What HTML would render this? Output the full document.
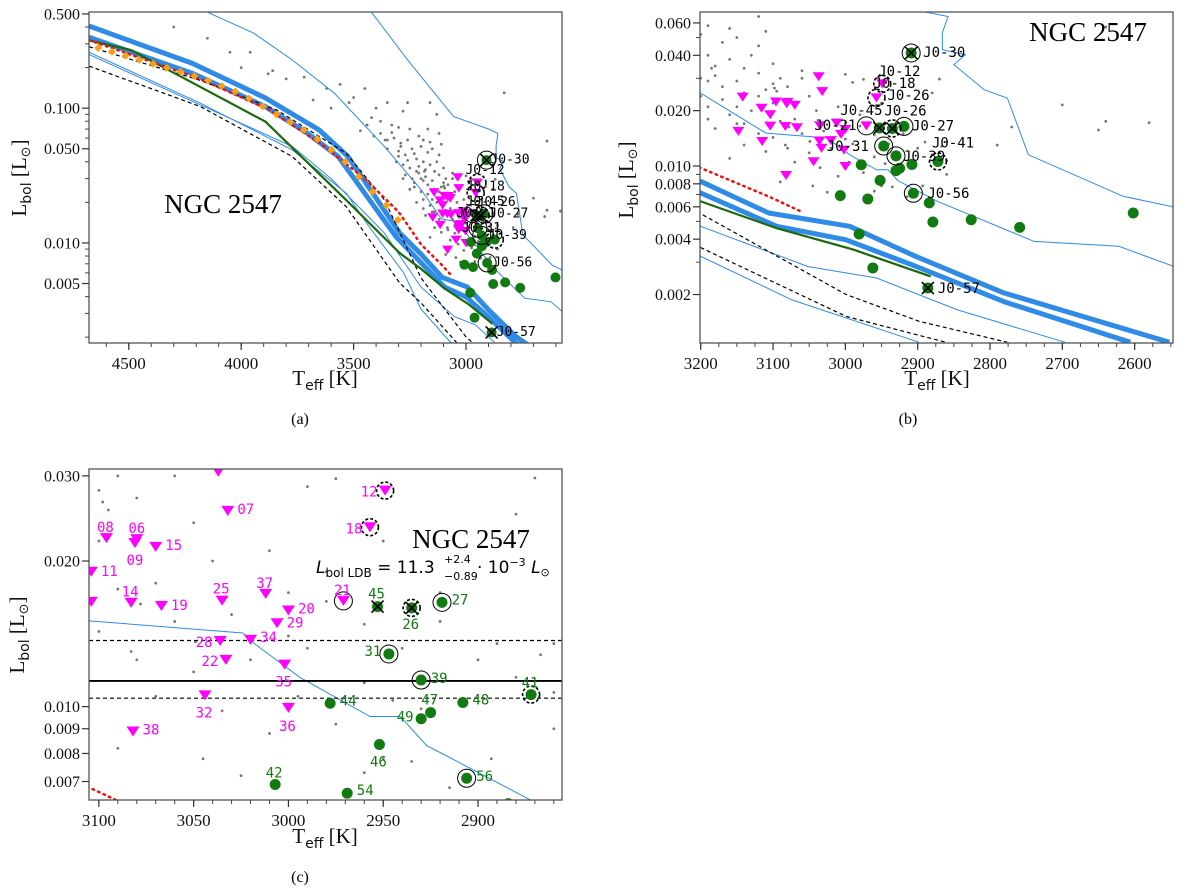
<!DOCTYPE html>
<html><head><meta charset="utf-8"><title>NGC 2547 HR diagrams</title>
<style>
html,body{margin:0;padding:0;background:#fff;overflow:hidden;width:1200px;height:892px;}
svg{display:block;}
.tick{font-family:"Liberation Serif",serif;font-size:16px;fill:#111;}
.xtick{font-size:17px;}
.ttl{font-family:"Liberation Serif","DejaVu Serif",serif;font-size:21px;fill:#111;}
.lab{font-family:"DejaVu Sans Mono","Liberation Mono",monospace;font-size:13px;}
</style></head>
<body>
<svg id="fig" xmlns="http://www.w3.org/2000/svg" width="1200" height="892" viewBox="0 0 1200 892"></svg>
<script>
// ---------- DATA ----------
const fieldT=[4150,4300,4050,3960,4420,4000,3860,3720,3880,3800,4150,3620,3560,3450,3500,3520,3680,3600,3400,3350,3260,3280,3160,3130,3420,3380,3440,3470,3330,3300,3250,3380,3410,3360,3320,3290,3260,3210,3170,3120,3350,3300,3270,3240,3200,3150,3120,3310,3280,3250,3220,3190,3160,3130,3100,3270,3240,3210,3180,3150,3120,3090,3060,3230,3200,3170,3140,3110,3080,3050,3220,3190,3160,3130,3100,3070,3040,3010,3180,3150,3120,3090,3060,3030,3000,2980,3140,3110,3080,3050,3020,2990,3160,3070,3035,2995,2960,2940,2920,2890,2960,2975,3090,3010,2950,2960,2930,3045,3025,2880,2860,2975,2990,3000,2870,2790,2770,2700,2650,2640,2580,2860,2640,2830,2920,3190,3170,3185,3190,3160,3110,2950,2880,3000,2980,2900,2935,2945,2915,3098,3095,3060,3083,3100,3078,3049,2893,2867,2860,3330,3290,3230,3260,3210,3180,3140,3230,3300,3350,3200,3250,3170,3150,3190,3120,3100,3140,3280,3220];
const fieldL=[0.33,0.4,0.26,0.26,0.23,0.2,0.19,0.17,0.18,0.165,0.165,0.14,0.15,0.14,0.12,0.11,0.115,0.1,0.1,0.11,0.11,0.095,0.11,0.09,0.085,0.08,0.075,0.068,0.075,0.072,0.07,0.065,0.062,0.058,0.06,0.055,0.058,0.062,0.07,0.065,0.05,0.048,0.045,0.05,0.052,0.05,0.045,0.04,0.038,0.036,0.042,0.04,0.038,0.04,0.036,0.032,0.03,0.033,0.031,0.029,0.032,0.03,0.033,0.026,0.024,0.027,0.025,0.026,0.027,0.024,0.02,0.021,0.019,0.02,0.022,0.018,0.02,0.021,0.016,0.017,0.015,0.0175,0.015,0.0155,0.0172,0.019,0.013,0.012,0.0125,0.0118,0.0125,0.0132,0.011,0.0105,0.0098,0.0105,0.0148,0.0132,0.0172,0.0135,0.0112,0.0092,0.0082,0.0088,0.0078,0.0073,0.0099,0.0078,0.0072,0.0115,0.009,0.0296,0.0285,0.0315,0.0297,0.013,0.0163,0.0215,0.0157,0.0175,0.0172,0.0107,0.057,0.13,0.015,0.058,0.047,0.034,0.029,0.056,0.054,0.022,0.025,0.014,0.0165,0.0125,0.0077,0.0103,0.0068,0.0265,0.0255,0.03,0.013,0.0143,0.0163,0.0136,0.0078,0.0128,0.0135,0.066,0.052,0.046,0.041,0.037,0.035,0.034,0.028,0.044,0.058,0.03,0.025,0.023,0.021,0.018,0.024,0.028,0.017,0.03,0.034];

const triIds=['07','08','06','09','15','11','14','19','25','37','20','29','34','28','22','35','32','36','38','21','12','18','t1','t2','t3','t4','t5','t6'];
const triT=[3032,3096,3080,3081,3070,3104,3083,3067,3035,3012,3000,3006,3020,3036,3033,3002,3044,3000,3082,2971,2949,2957,3104,3037,3142,3116,3148,3115];
const triL=[0.0254,0.0223,0.0222,0.0218,0.0214,0.0190,0.0164,0.01615,0.01656,0.0171,0.0158,0.01487,0.01374,0.01367,0.01249,0.01221,0.01055,0.00994,0.00888,0.01654,0.02797,0.02349,0.01647,0.0306,0.0237,0.0206,0.01544,0.0136];

const dotIds=['30','57','45','26','27','31','39','41','44','48','47','49','46','42','54','56','d1','d2','d3','d4','d5','d6','d7'];
const dotT=[2909,2886,2953,2935,2919,2947,2930,2872,2978,2908,2925,2930,2952,3007,2969,2906,2884,2879,2826,2759,2602,2981,2962];
const dotL=[0.0412,0.00217,0.0161,0.0160,0.01643,0.01285,0.01135,0.01059,0.01016,0.0102,0.00972,0.00944,0.00835,0.0069,0.00662,0.00711,0.0063,0.00496,0.0051,0.00464,0.00555,0.00427,0.00279];

const circled=['30','27','31','39','56','21'];
const dashedCircled=['12','18','26','41'];
const crossed=['30','57','45','26'];

const thickUpper=[[4677,0.407],[4217,0.215],[3892,0.119],[3653,0.0689],[3525,0.0437],[3294,0.0118],[3200,0.00825],[3106,0.00555],[2994,0.0047],[2903,0.00323],[2781,0.00204],[2552,0.0011]];
const thickLower=[[4677,0.336],[4217,0.181],[3892,0.1026],[3704,0.065],[3568,0.0437],[3311,0.0111],[3200,0.00713],[3095,0.0047],[2999,0.00397],[2903,0.00285],[2781,0.00183],[2606,0.0011]];
const thinA=[[4149,0.514],[3944,0.36],[3773,0.228],[3585,0.129],[3362,0.0518],[3200,0.0249],[3110,0.0151],[3024,0.0142],[3018,0.0135],[2994,0.0115],[2957,0.00954],[2941,0.00954],[2927,0.0083],[2919,0.008],[2872,0.0064],[2739,0.00389],[2622,0.00366],[2547,0.00285]];
const thinB=[[3422,0.52],[3260,0.228],[3055,0.0866],[2900,0.07],[2858,0.065],[2866,0.0529],[2866,0.0429],[2834,0.0403],[2850,0.0356],[2808,0.026],[2776,0.0234],[2747,0.0115],[2616,0.00684],[2547,0.006]];
const thinLow1=[[4677,0.26],[4183,0.109],[3773,0.049],[3533,0.0234],[3431,0.0132],[3277,0.006],[3200,0.00323],[3074,0.00187],[2898,0.0011]];
const thinLow2=[[4677,0.25],[4183,0.106],[3773,0.052],[3600,0.03],[3362,0.0118],[3200,0.0047],[3052,0.00284],[2957,0.00246],[2845,0.00165],[2696,0.0011]];
const dash1=[[4677,0.286],[4183,0.161],[3841,0.0967],[3533,0.0463],[3362,0.0208],[3200,0.0055],[2999,0.002],[2898,0.00143],[2776,0.0011]];
const dash2=[[4677,0.205],[4183,0.103],[3773,0.0438],[3533,0.0186],[3294,0.00502],[3200,0.0036],[2999,0.00152],[2861,0.0011]];
const greenTrack=[[4677,0.318],[4490,0.27],[4183,0.144],[3892,0.0794],[3533,0.0208],[3294,0.00838],[3200,0.00642],[3095,0.00459],[2989,0.00351],[2882,0.00251]];
const redTrack=[[4677,0.32],[4183,0.165],[3875,0.097],[3650,0.055],[3450,0.03],[3300,0.017],[3200,0.00975],[3105,0.0068],[3063,0.0057]];
const orangeT=[4636,4575,4514,4453,4392,4331,4270,4209,4148,4087,4026,3965,3904,3843,3782,3721,3660,3599,3538,3477,3416,3355,3303];
const orangeL=[0.28,0.262,0.245,0.228,0.213,0.199,0.186,0.173,0.16,0.146,0.133,0.118,0.103,0.09,0.079,0.069,0.059,0.049,0.04,0.031,0.024,0.019,0.0148];

const ldbL=[0.0113,0.0137,0.01041];

// ---------- PANELS ----------
const NS='http://www.w3.org/2000/svg';
const svg=document.getElementById('fig');
function mk(tag,attrs,parent){const e=document.createElementNS(NS,tag);for(const k in attrs)e.setAttribute(k,attrs[k]);(parent||svg).appendChild(e);return e;}

const panels=[
 {id:'a',x0:89,x1:562,y0:12,y1:343,T0:4677,T1:2573,Lt:0.517,Lb:0.00181,thick:true,
  xMaj:[4500,4000,3500,3000],xMinStep:100,xMinFrom:4600,xMinTo:2600,
  yMaj:[0.5,0.1,0.05,0.01,0.005],yMin:[0.002,0.003,0.004,0.006,0.007,0.008,0.009,0.02,0.03,0.04,0.06,0.07,0.08,0.09,0.2,0.3,0.4],
  xt:[325,385],yt:[26,178],cap:['(a)',300,424],ngc:[223,213],tri:[11,8.5],dotR:5,labSize:13,
  labels:[['30','J0-30',4,0],['12','J0-12',-12,-12],['18','J0-18',-10,-6],['45','J0-45',-11,-13],['26','J0-26',-4,-13],['21','J0-21',-16,0],['27','J0-27',5,0],['31','J0-31',-16,0],['39','J0-39',6,0],['56','J0-56',6,0],['57','J0-57',5,0]],anchor:'start',labColor:null},
 {id:'b',x0:700,x1:1173,y0:12,y1:343,T0:3201,T1:2547,Lt:0.0688,Lb:0.00109,thick:true,
  xMaj:[3200,3100,3000,2900,2800,2700,2600],xMinStep:25,xMinFrom:3200,xMinTo:2550,
  yMaj:[0.06,0.04,0.02,0.01,0.008,0.006,0.004,0.002],yMin:[0.003,0.005,0.007,0.009,0.03,0.05],
  xt:[937,385],yt:[633,180],cap:['(b)',908,424],ngc:[1088,41],tri:[12,9],dotR:5.5,labSize:14,
  labels:[['30','J0-30',12,0],['12','J0-12',-4,-12],['18','J0-18',-3,-14],['18','J0-26',11,-2],['45','J0-45',-39,-17],['26','J0-26',-8,-17],['21','J0-21',-52,0],['27','J0-27',8,0],['41','J0-41',-6,-18],['31','J0-31',-57,1],['39','J0-39',7,1],['56','J0-56',14,1],['57','J0-57',10,1]],anchor:'start',labColor:null},
 {id:'c',x0:89,x1:562,y0:469,y1:800,T0:3105.2,T1:2855.7,Lt:0.031,Lb:0.00641,thick:false,ldb:true,
  xMaj:[3100,3050,3000,2950,2900],xMinStep:10,xMinFrom:3100,xMinTo:2860,
  yMaj:[0.03,0.02,0.01,0.009,0.008,0.007],yMin:[],
  xt:[325,843],yt:[24,635],cap:['(c)',300,882],ngc:[471,548],tri:[13,10],dotR:5.5,labSize:14,
  labels:[['07','07',18,-1],['08','08',-1,-10],['06','06',0,-10],['09','09',0,18],['15','15',18,-1],['11','11',18,0],['14','14',-1,-10],['19','19',18,0],['25','25',-1,-11],['37','37',-1,-10],['20','20',18,-1],['29','29',18,0],['34','34',18,-2],['28','28',-16,2],['22','22',-16,2],['35','35',-1,18],['32','32',-1,18],['36','36',-1,19],['38','38',18,-1],['21','21',-1,-10],['12','12',-16,2],['18','18',-16,2],
   ['45','45',-1,-12],['26','26',-1,17],['27','27',18,-2],['31','31',-16,-2],['39','39',18,-1],['41','41',-1,-11],['44','44',18,-2],['48','48',18,-2],['47','47',-1,-12],['49','49',-16,-1],['46','46',-1,18],['42','42',-1,-11],['54','54',18,-2],['56','56',18,-1]],anchor:'middle',labColor:true}
];

function fmtL(v){return v.toFixed(3);}

panels.forEach(p=>{
  const g=mk('g',{});
  
  
  const lt=Math.log10(p.Lt), lb=Math.log10(p.Lb);
  const X=T=>p.x0+(p.T0-T)/(p.T0-p.T1)*(p.x1-p.x0);
  const Y=L=>p.y0+(lt-Math.log10(L))/(lt-lb)*(p.y1-p.y0);
  const cp=mk('clipPath',{id:'clip'+p.id},g);
  mk('rect',{x:p.x0,y:p.y0,width:p.x1-p.x0,height:p.y1-p.y0},cp);
  const plot=mk('g',{'clip-path':'url(#clip'+p.id+')'},g);
  
  

  for(let i=0;i<fieldT.length;i++){
    const c=mk('circle',{cx:X(fieldT[i]),cy:Y(fieldL[i]),r:1.4,fill:'#777'},plot);
    
    
  }
  const line=(pts,attrs,name)=>{
    const d=pts.map((q,i)=>(i?'L':'M')+X(q[0]).toFixed(1)+','+Y(q[1]).toFixed(1)).join(' ');
    const e=mk('path',Object.assign({d:d,fill:'none'},attrs),plot);
    
    
  };
  line(thinA,{stroke:'#2f8be6','stroke-width':1},'isochrone-thin-upper');
  line(thinB,{stroke:'#2f8be6','stroke-width':1},'isochrone-thin-outer');
  line(thinLow1,{stroke:'#2f8be6','stroke-width':1},'isochrone-thin-lower-1');
  line(thinLow2,{stroke:'#2f8be6','stroke-width':1},'isochrone-thin-lower-2');
  if(p.thick){
    line(thickUpper,{stroke:'#2f8be6','stroke-width':5,'stroke-linejoin':'round'},'isochrone-thick-upper');
    line(thickLower,{stroke:'#2f8be6','stroke-width':5,'stroke-linejoin':'round'},'isochrone-thick-lower');
  }
  line(dash1,{stroke:'#000','stroke-width':1.2,'stroke-dasharray':'4,3'},'dashed-isochrone-1');
  line(dash2,{stroke:'#000','stroke-width':1.2,'stroke-dasharray':'4,3'},'dashed-isochrone-2');
  line(greenTrack,{stroke:'#1a6a0a','stroke-width':2.2},'green-isochrone');
  line(redTrack,{stroke:'#ee1111','stroke-width':2.5,'stroke-dasharray':'1.5,4.5','stroke-linecap':'round'},'red-dotted-isochrone');
  for(let i=0;i<orangeT.length;i++){
    const x=X(orangeT[i]),y=Y(orangeL[i]);
    const e=mk('path',{d:`M${x},${y-4} L${x+4},${y} L${x},${y+4} L${x-4},${y} Z`,fill:'#f5a21a'},plot);
    
    
  }
  if(p.ldb){
    ldbL.forEach((v,i)=>{
      const e=mk('line',{x1:p.x0,x2:p.x1,y1:Y(v),y2:Y(v),stroke:'#000','stroke-width':i?1.2:1.8,'stroke-dasharray':i?'4,3':'none'},plot);
      
      
    });
  }
  const pos={};
  const [tw,th]=p.tri;
  for(let i=0;i<triT.length;i++){
    const x=X(triT[i]),y=Y(triL[i]);pos[triIds[i]]=[x,y];
    const e=mk('path',{d:`M${x-tw/2},${y-th/2} L${x+tw/2},${y-th/2} L${x},${y+th/2} Z`,fill:'#f0f'},plot);
    
    
  }
  for(let i=0;i<dotT.length;i++){
    const x=X(dotT[i]),y=Y(dotL[i]);pos[dotIds[i]]=[x,y];
    const e=mk('circle',{cx:x,cy:y,r:p.dotR,fill:'#117a11'},plot);
    
    
  }
  circled.forEach(id=>{const [x,y]=pos[id];
    const e=mk('circle',{cx:x,cy:y,r:9,fill:'none',stroke:'#000','stroke-width':1},plot);
    
    });
  dashedCircled.forEach(id=>{const [x,y]=pos[id];
    const e=mk('circle',{cx:x,cy:y,r:8.5,fill:'none',stroke:'#000','stroke-width':1.6,'stroke-dasharray':'3,2'},plot);
    
    });
  crossed.forEach(id=>{const [x,y]=pos[id];
    const e=mk('path',{d:`M${x-6},${y-6} L${x+6},${y+6} M${x-6},${y+6} L${x+6},${y-6}`,stroke:'#000','stroke-width':1.6},plot);
    
    });
  p.labels.forEach(l=>{const [x,y]=pos[l[0]];
    let col='#000';
    if(p.labColor) col=triIds.includes(l[0])?'#f0f':'#117a11';
    const t=mk('text',{x:x+l[2],y:y+l[3],'text-anchor':p.anchor,'dominant-baseline':'central',class:'lab',fill:col,style:'font-size:'+p.labSize+'px'},plot);
    t.textContent=l[1];
    
    });

  const fr=mk('rect',{x:p.x0,y:p.y0,width:p.x1-p.x0,height:p.y1-p.y0,fill:'none',stroke:'#555','stroke-width':1.3},g);
  
  
  const xa=mk('g',{},g);
  
  
  for(let T=p.xMinFrom;T>=p.xMinTo;T-=p.xMinStep){const x=X(T);if(x<p.x0-0.5||x>p.x1+0.5)continue;
    mk('line',{x1:x,x2:x,y1:p.y1,y2:p.y1+4,stroke:'#444','stroke-width':1},xa);}
  p.xMaj.forEach(T=>{const x=X(T);
    mk('line',{x1:x,x2:x,y1:p.y1,y2:p.y1+7,stroke:'#333','stroke-width':1.2},xa);
    const t=mk('text',{x:x,y:p.y1+26,'text-anchor':'middle',class:'tick xtick'},xa);t.textContent=T;
    
    });
  const ya=mk('g',{},g);
  
  
  p.yMin.forEach(L=>{const y=Y(L);if(y<p.y0||y>p.y1)return;
    mk('line',{x1:p.x0-4,x2:p.x0,y1:y,y2:y,stroke:'#444','stroke-width':1},ya);});
  p.yMaj.forEach(L=>{const y=Y(L);
    mk('line',{x1:p.x0-7,x2:p.x0,y1:y,y2:y,stroke:'#333','stroke-width':1.2},ya);
    const t=mk('text',{x:p.x0-9,y:y+5.5,'text-anchor':'end',class:'tick'},ya);t.textContent=fmtL(L);
    
    });
  const xt=mk('text',{x:p.xt[0],y:p.xt[1],'text-anchor':'middle',class:'ttl'},g);
  xt.innerHTML='T<tspan font-family="DejaVu Sans, sans-serif" font-size="14" dy="5">eff</tspan><tspan dy="-5"> [K]</tspan>';
  
  
  const yt=mk('text',{x:p.yt[0],y:p.yt[1],'text-anchor':'middle',class:'ttl',transform:`rotate(-90 ${p.yt[0]} ${p.yt[1]})`},g);
  yt.innerHTML='L<tspan font-family="DejaVu Sans, sans-serif" font-size="14" dy="5">bol</tspan><tspan dy="-5"> [L</tspan><tspan font-family="DejaVu Sans, sans-serif" font-size="13" dy="4">⊙</tspan><tspan dy="-4">]</tspan>';
  
  
  const cap=mk('text',{x:p.cap[1],y:p.cap[2],'text-anchor':'middle',style:'font-family:"Liberation Serif",serif;font-size:16px'},g);
  cap.textContent=p.cap[0];
  
  
  const ng=mk('text',{x:p.ngc[0],y:p.ngc[1],'text-anchor':'middle',style:'font-family:"Liberation Serif",serif;font-size:27px',fill:'#000'},g);
  ng.textContent='NGC 2547';
  
  
  if(p.ldb){
    const f=mk('text',{x:316,y:573,style:'font-family:"DejaVu Sans",sans-serif;font-size:17px',fill:'#000'},g);
    f.innerHTML='<tspan font-style="italic">L</tspan><tspan font-size="12" dy="4">bol LDB</tspan><tspan dy="-4"> = 11.3</tspan>';
    
    
    const s1=mk('text',{x:444,y:563,style:'font-family:"DejaVu Sans",sans-serif;font-size:11px'},g);s1.textContent='+2.4';
    
    
    const s2=mk('text',{x:444,y:580,style:'font-family:"DejaVu Sans",sans-serif;font-size:11px'},g);s2.textContent='−0.89';
    
    
    const f2=mk('text',{x:477,y:573,style:'font-family:"DejaVu Sans",sans-serif;font-size:17px'},g);
    f2.innerHTML='· 10<tspan font-size="11" dy="-7">−3</tspan><tspan dy="7" font-style="italic"> L</tspan><tspan font-size="11" dy="3">⊙</tspan>';
    
    
  }
});
</script>
</body></html>
